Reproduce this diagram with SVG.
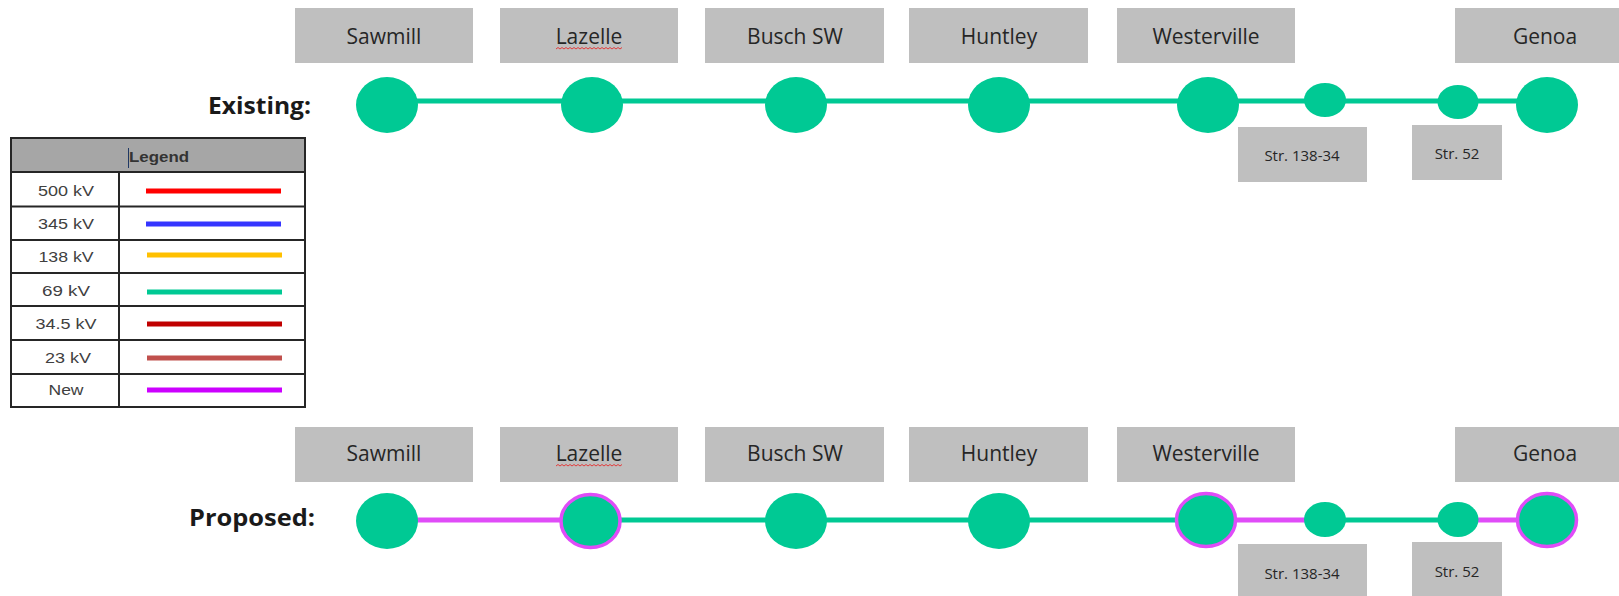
<svg xmlns="http://www.w3.org/2000/svg" width="1619" height="596" viewBox="0 0 1619 596">
<style>
.box{fill:#BFBFBF}
.lbl{font-family:"Open Sans","Liberation Sans",sans-serif;font-size:21px;fill:#262626;text-anchor:middle}
.str{font-family:"Open Sans","Liberation Sans",sans-serif;font-size:15px;fill:#262626;text-anchor:middle}
.head{font-family:"Open Sans","Liberation Sans",sans-serif;font-size:23px;font-weight:bold;fill:#1a1a1a;text-anchor:end}
.st{fill:#00C994}
.ring{fill:#00C994;stroke:#E04CF8;stroke-width:3.5}
.g69{stroke:#00C994;stroke-width:5;fill:none}
.new{stroke:#E04CF8;stroke-width:5;fill:none}
.sq{stroke:#E23B3B;stroke-width:1;fill:none}
.lg{font-family:"Liberation Sans",Arial,sans-serif;font-size:15px;fill:#404040;text-anchor:middle}
.grid{stroke:#262626;stroke-width:2;fill:none}
.ll{stroke-width:5;fill:none}
</style>

<text class="head" x="311" y="114" textLength="103" lengthAdjust="spacingAndGlyphs">Existing:</text>
<text class="head" x="315" y="526" textLength="126" lengthAdjust="spacingAndGlyphs">Proposed:</text>

<g id="connectors">
  <line class="g69" x1="387" y1="101" x2="1547" y2="101"/>
  <line class="new" x1="387" y1="520" x2="590" y2="520"/>
  <line class="g69" x1="590" y1="520" x2="1206" y2="520"/>
  <line class="new" x1="1206" y1="520" x2="1325" y2="520"/>
  <line class="g69" x1="1325" y1="520" x2="1458" y2="520"/>
  <line class="new" x1="1458" y1="520" x2="1547" y2="520"/>
</g>

<!-- Existing row -->
<g id="ex-sawmill">
  <rect class="box" x="295" y="8" width="178" height="55"/>
  <text class="lbl" x="384" y="44">Sawmill</text>
  <ellipse class="st" cx="387" cy="105" rx="31" ry="28"/>
</g>
<g id="ex-lazelle">
  <rect class="box" x="500" y="8" width="178" height="55"/>
  <text class="lbl" x="589" y="44">Lazelle</text>
  <path class="sq" d="M556 49 l2 -1.5 l2 1.5 l2 -1.5 l2 1.5 l2 -1.5 l2 1.5 l2 -1.5 l2 1.5 l2 -1.5 l2 1.5 l2 -1.5 l2 1.5 l2 -1.5 l2 1.5 l2 -1.5 l2 1.5 l2 -1.5 l2 1.5 l2 -1.5 l2 1.5 l2 -1.5 l2 1.5 l2 -1.5 l2 1.5 l2 -1.5 l2 1.5 l2 -1.5 l2 1.5 l2 -1.5 l2 1.5 l2 -1.5 l2 1.5 l2 -1.5"/>
  <ellipse class="st" cx="592" cy="105" rx="31" ry="28"/>
</g>
<g id="ex-busch">
  <rect class="box" x="705" y="8" width="179" height="55"/>
  <text class="lbl" x="795" y="44">Busch SW</text>
  <ellipse class="st" cx="796" cy="105" rx="31" ry="28"/>
</g>
<g id="ex-huntley">
  <rect class="box" x="909" y="8" width="179" height="55"/>
  <text class="lbl" x="999" y="44">Huntley</text>
  <ellipse class="st" cx="999" cy="105" rx="31" ry="28"/>
</g>
<g id="ex-westerville">
  <rect class="box" x="1117" y="8" width="178" height="55"/>
  <text class="lbl" x="1206" y="44">Westerville</text>
  <ellipse class="st" cx="1208" cy="105" rx="31" ry="28"/>
</g>
<g id="ex-str138">
  <rect class="box" x="1238" y="127" width="129" height="55"/>
  <text class="str" x="1302" y="161">Str. 138-34</text>
  <ellipse class="st" cx="1325" cy="100" rx="21" ry="17"/>
</g>
<g id="ex-str52">
  <rect class="box" x="1412" y="125" width="90" height="55"/>
  <text class="str" x="1457" y="159">Str. 52</text>
  <ellipse class="st" cx="1458" cy="102" rx="20.5" ry="17"/>
</g>
<g id="ex-genoa">
  <rect class="box" x="1455" y="8" width="178" height="55"/>
  <text class="lbl" x="1545" y="44">Genoa</text>
  <ellipse class="st" cx="1547" cy="105" rx="31" ry="28"/>
</g>

<!-- Proposed row -->
<g id="pr-sawmill">
  <rect class="box" x="295" y="427" width="178" height="55"/>
  <text class="lbl" x="384" y="461">Sawmill</text>
  <ellipse class="st" cx="387" cy="521" rx="31" ry="28"/>
</g>
<g id="pr-lazelle">
  <rect class="box" x="500" y="427" width="178" height="55"/>
  <text class="lbl" x="589" y="461">Lazelle</text>
  <path class="sq" d="M556 466 l2 -1.5 l2 1.5 l2 -1.5 l2 1.5 l2 -1.5 l2 1.5 l2 -1.5 l2 1.5 l2 -1.5 l2 1.5 l2 -1.5 l2 1.5 l2 -1.5 l2 1.5 l2 -1.5 l2 1.5 l2 -1.5 l2 1.5 l2 -1.5 l2 1.5 l2 -1.5 l2 1.5 l2 -1.5 l2 1.5 l2 -1.5 l2 1.5 l2 -1.5 l2 1.5 l2 -1.5 l2 1.5 l2 -1.5 l2 1.5 l2 -1.5"/>
  <ellipse class="ring" cx="590.5" cy="521" rx="29.5" ry="26.5"/>
</g>
<g id="pr-busch">
  <rect class="box" x="705" y="427" width="179" height="55"/>
  <text class="lbl" x="795" y="461">Busch SW</text>
  <ellipse class="st" cx="796" cy="521" rx="31" ry="28"/>
</g>
<g id="pr-huntley">
  <rect class="box" x="909" y="427" width="179" height="55"/>
  <text class="lbl" x="999" y="461">Huntley</text>
  <ellipse class="st" cx="999" cy="521" rx="31" ry="28"/>
</g>
<g id="pr-westerville">
  <rect class="box" x="1117" y="427" width="178" height="55"/>
  <text class="lbl" x="1206" y="461">Westerville</text>
  <ellipse class="ring" cx="1206" cy="520" rx="29.5" ry="26.5"/>
</g>
<g id="pr-str138">
  <rect class="box" x="1238" y="544" width="129" height="60"/>
  <text class="str" x="1302" y="579">Str. 138-34</text>
  <ellipse class="st" cx="1325" cy="519.5" rx="21" ry="17.5"/>
</g>
<g id="pr-str52">
  <rect class="box" x="1412" y="542" width="90" height="60"/>
  <text class="str" x="1457" y="577">Str. 52</text>
  <ellipse class="st" cx="1458" cy="519.5" rx="20.5" ry="17.5"/>
</g>
<g id="pr-genoa">
  <rect class="box" x="1455" y="427" width="178" height="55"/>
  <text class="lbl" x="1545" y="461">Genoa</text>
  <ellipse class="ring" cx="1547" cy="520" rx="29.5" ry="26.5"/>
</g>

<!-- Legend -->
<g id="legend">
  <rect x="11" y="138" width="294" height="34" fill="#A6A6A6"/>
  <rect x="11" y="172" width="294" height="235" fill="#FFFFFF"/>
  <text x="159" y="162" font-family="'Liberation Sans',Arial,sans-serif" font-size="15" font-weight="bold" fill="#333333" text-anchor="middle" textLength="60" lengthAdjust="spacingAndGlyphs">Legend</text>
  <line x1="128.5" y1="148" x2="128.5" y2="168" stroke="#1F3864" stroke-width="1"/>
  <rect class="grid" x="11" y="138" width="294" height="269"/>
  <line class="grid" x1="11" y1="172" x2="305" y2="172"/>
  <line class="grid" x1="11" y1="206.5" x2="305" y2="206.5"/>
  <line class="grid" x1="11" y1="240" x2="305" y2="240"/>
  <line class="grid" x1="11" y1="273" x2="305" y2="273"/>
  <line class="grid" x1="11" y1="306" x2="305" y2="306"/>
  <line class="grid" x1="11" y1="340" x2="305" y2="340"/>
  <line class="grid" x1="11" y1="374" x2="305" y2="374"/>
  <line class="grid" x1="119" y1="172" x2="119" y2="407"/>
  <text class="lg" x="66" y="196" textLength="56" lengthAdjust="spacingAndGlyphs">500 kV</text>
  <text class="lg" x="66" y="229" textLength="56" lengthAdjust="spacingAndGlyphs">345 kV</text>
  <text class="lg" x="66" y="262" textLength="55" lengthAdjust="spacingAndGlyphs">138 kV</text>
  <text class="lg" x="66" y="296" textLength="48" lengthAdjust="spacingAndGlyphs">69 kV</text>
  <text class="lg" x="66" y="329" textLength="61" lengthAdjust="spacingAndGlyphs">34.5 kV</text>
  <text class="lg" x="68" y="363" textLength="46" lengthAdjust="spacingAndGlyphs">23 kV</text>
  <text class="lg" x="66" y="395" textLength="35" lengthAdjust="spacingAndGlyphs">New</text>
  <line class="ll" x1="146" y1="191" x2="281" y2="191" stroke="#FF0000"/>
  <line class="ll" x1="146" y1="224" x2="281" y2="224" stroke="#3535FF"/>
  <line class="ll" x1="147" y1="255" x2="282" y2="255" stroke="#FFC000"/>
  <line class="ll" x1="147" y1="292" x2="282" y2="292" stroke="#00C994"/>
  <line class="ll" x1="147" y1="324" x2="282" y2="324" stroke="#C00000"/>
  <line class="ll" x1="147" y1="358" x2="282" y2="358" stroke="#C0504D"/>
  <line class="ll" x1="147" y1="390" x2="282" y2="390" stroke="#CC00FF"/>
</g>
</svg>
